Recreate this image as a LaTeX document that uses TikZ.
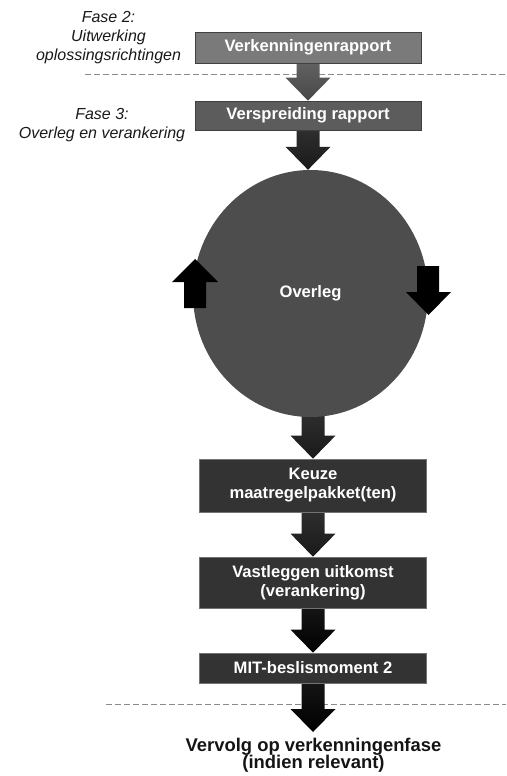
\documentclass[tikz,border=0pt]{standalone}
\usepackage{fontspec}
\setmainfont{Liberation Sans}
\usetikzlibrary{calc,shapes.geometric,backgrounds}

\definecolor{boxA}{HTML}{7A7A7A}
\definecolor{boxB}{HTML}{5C5C5C}
\definecolor{boxC}{HTML}{333333}
\definecolor{circfill}{HTML}{4D4D4D}
\definecolor{guidegray}{HTML}{8A8A8A}

% block arrow: #1 style, #2 start of the shaft, #3 tip (x of the tip is used)
\newcommand\flowarrow[3]{%
  \path[#1] let \p1=#2, \p2=#3 in
    (\x2-11.5pt,\y1) -- (\x2+11.5pt,\y1) -- (\x2+11.5pt,\y2+23pt)
    -- (\x2+22.5pt,\y2+23pt) -- (\x2,\y2) -- (\x2-22.5pt,\y2+23pt)
    -- (\x2-11.5pt,\y2+23pt) -- cycle;}

\begin{document}
\begin{tikzpicture}[x=1pt,y=-1pt,
  stage/.style={draw=#1, line width=0.7pt, minimum width=226pt,
    inner sep=0pt, text=white, align=center,
    font=\bfseries\fontsize{16.6}{19}\selectfont},
  phase/.style={align=center, inner sep=0pt, text=black!90,
    font=\itshape\fontsize{16}{19}\selectfont},
  guide/.style={draw=guidegray, line width=1pt, dash pattern=on 6pt off 3pt},
  cyc/.style={fill=black},
  arrA/.style={top color=black!62, bottom color=black!72},
  arrB/.style={top color=black!82, bottom color=black!90},
  arrC/.style={top color=black!92, bottom color=black!100}]

\useasboundingbox (0,0) rectangle (506,776);

% phase labels
\node[phase] (f2) at (108.5,38) {Fase 2:\\Uitwerking\\oplossingsrichtingen};
\node[phase] (f3) at (102,125) {Fase 3:\\Overleg en verankering};

% process steps
\node[stage=black!75, fill=boxA, minimum height=31pt] (rap) at (308,47.5) {Verkenningenrapport};
\node[stage=black!75, fill=boxB, minimum height=29pt] (spr) at (308,115.5) {Verspreiding rapport};
\node[ellipse, fill=circfill, minimum width=235pt, minimum height=247pt, inner sep=0pt,
      text=white, font=\bfseries\fontsize{16.6}{19}\selectfont] (ov) at (310.5,293.5) {\raisebox{-3pt}{Overleg}};
\node[stage=black!55, fill=boxC, minimum width=227pt, minimum height=53pt] (keu) at (313,485.5) {Keuze\\maatregelpakket(ten)};
\node[stage=black!55, fill=boxC, minimum width=227pt, minimum height=51pt] (vast) at (313,582.5) {Vastleggen uitkomst\\(verankering)};
\node[stage=black!55, fill=boxC, minimum width=227pt, minimum height=30pt] (mit) at (313,668) {MIT-beslismoment 2};
\node[align=center, inner sep=0pt, text=black!92,
      font=\bfseries\fontsize{18.4}{17.5}\selectfont] (vervolg) at (313.5,755) {Vervolg op verkenningenfase\\(indien relevant)};
\coordinate (vtip) at (313,732);

\begin{scope}[on background layer]
  % phase separators
  \draw[guide] (85,74) -- (506,74);
  \draw[guide] (106,704) -- (506,704);
  % connectors between the steps
  \flowarrow{arrA}{(rap.south)}{(spr.north)}
  \flowarrow{arrB}{(spr.south)}{(spr.south |- ov.north)}
  \flowarrow{arrB}{($(ov.south -| keu.north)+(0,-4)$)}{(keu.north)}
  \flowarrow{arrB}{(keu.south)}{(vast.north)}
  \flowarrow{arrC}{(vast.south)}{(mit.north)}
  \flowarrow{arrC}{(mit.south)}{(vtip)}
\end{scope}

% cycle arrows beside the consultation round
\fill[cyc] (184,308) -- (206,308) -- (206,282) -- (218,282) -- (195,259)
  -- (172,282) -- (184,282) -- cycle;
\fill[cyc] (417,266) -- (439,266) -- (439,292) -- (451,292) -- (428.5,315)
  -- (406,292) -- (417,292) -- cycle;

\end{tikzpicture}
\end{document}
